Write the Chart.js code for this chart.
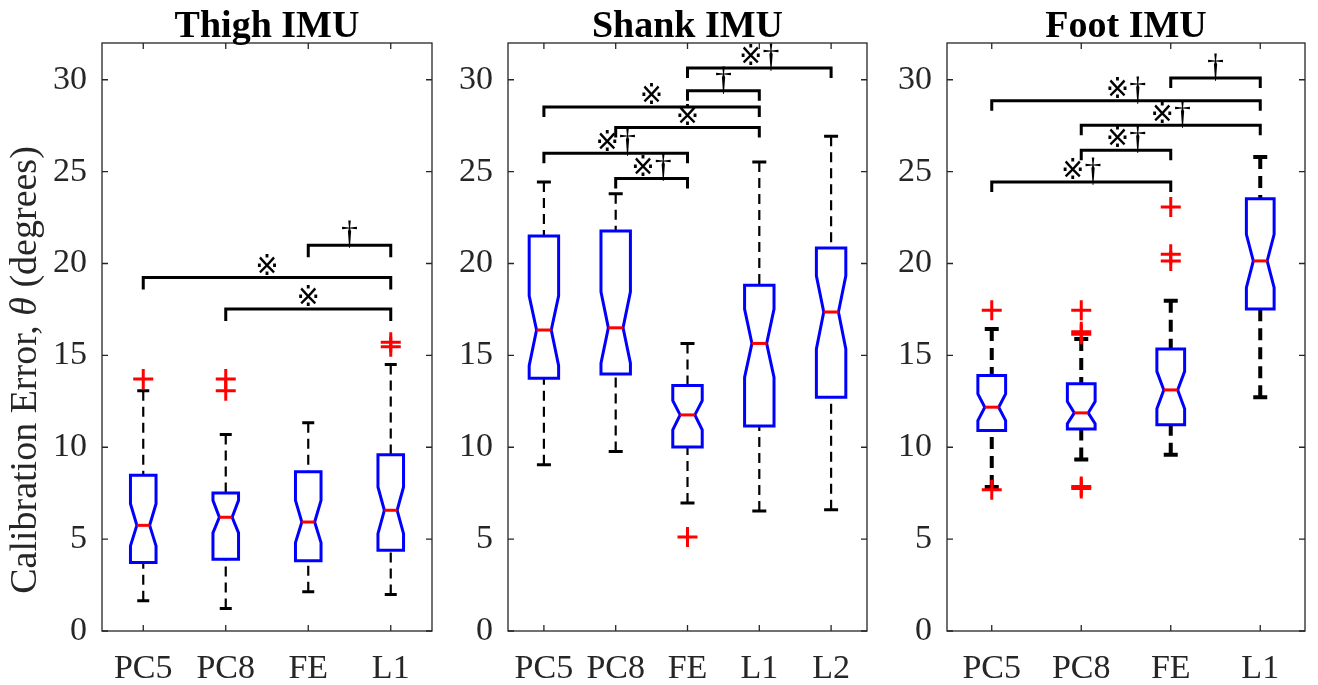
<!DOCTYPE html>
<html>
<head>
<meta charset="utf-8">
<title>IMU calibration error</title>
<script src="https://cdn.jsdelivr.net/npm/chart.js@4.4.1/dist/chart.umd.min.js"></script>
<style>
  html, body { margin: 0; padding: 0; background: #fff; }
  #wrap { position: relative; width: 1318px; height: 685px; overflow: hidden; }
  #wrap canvas { position: absolute; top: 0; }
</style>
</head>
<body>
<div id="wrap">
  <canvas id="thigh" width="445" height="685" style="left:0"></canvas>
  <canvas id="shank" width="435" height="685" style="left:445px"></canvas>
  <canvas id="foot" width="438" height="685" style="left:880px"></canvas>
</div>
<script>
// ---- Thigh IMU ----
const thighLabels = ['PC5', 'PC8', 'FE', 'L1'];
const thighWhiskerLow = [1.65, 1.23, 2.13, 1.99];
const thighQ1 = [3.73, 3.91, 3.82, 4.40];
const thighNotchLow = [4.63, 5.34, 4.81, 5.30];
const thighMedian = [5.75, 6.19, 5.93, 6.57];
const thighNotchHigh = [6.93, 7.11, 7.11, 7.84];
const thighQ3 = [8.47, 7.51, 8.67, 9.59];
const thighWhiskerHigh = [13.08, 10.70, 11.33, 14.50];
const thighOutliers = [[13.72], [13.72, 13.08], [], [15.71, 15.47]];
const thighPairs = [[1, 4], [2, 4], [3, 4]];
const thighPairLevels = [19.24, 17.52, 21.0];
const thighPairMarks = ['※', '※', '†'];

// ---- Shank IMU ----
const shankLabels = ['PC5', 'PC8', 'FE', 'L1', 'L2'];
const shankWhiskerLow = [9.05, 9.77, 6.97, 6.53, 6.60];
const shankQ1 = [13.75, 13.99, 10.01, 11.15, 12.72];
const shankNotchLow = [14.44, 14.57, 10.95, 13.80, 15.35];
const shankMedian = [16.38, 16.50, 11.76, 15.65, 17.36];
const shankNotchHigh = [18.24, 18.46, 12.54, 17.52, 19.33];
const shankQ3 = [21.50, 21.77, 13.36, 18.82, 20.85];
const shankWhiskerHigh = [24.43, 23.80, 15.65, 25.52, 26.93];
const shankOutliers = [[], [], [5.12], [], []];
const shankPairs = [[3, 5], [3, 4], [1, 4], [2, 4], [1, 3], [2, 3]];
const shankPairLevels = [30.64, 29.4, 28.52, 27.4, 26.0, 24.63];
const shankPairMarks = ['※†', '†', '※', '※', '※†', '※†'];

// ---- Foot IMU ----
const footLabels = ['PC5', 'PC8', 'FE', 'L1'];
const footWhiskerLow = [7.84, 9.34, 9.59, 12.72];
const footQ1 = [10.91, 11.00, 11.22, 17.52];
const footNotchLow = [11.45, 11.28, 12.09, 18.69];
const footMedian = [12.18, 11.87, 13.12, 20.14];
const footNotchHigh = [12.90, 12.49, 14.13, 21.59];
const footQ3 = [13.90, 13.45, 15.35, 23.52];
const footWhiskerHigh = [16.43, 15.89, 17.97, 25.80];
const footOutliers = [[17.46, 7.69], [17.46, 16.29, 16.15, 7.87, 7.75], [23.07, 20.50, 20.14], []];
const footPairs = [[3, 4], [1, 4], [2, 4], [2, 3], [1, 3]];
const footPairLevels = [30.1, 28.86, 27.52, 26.17, 24.43];
const footPairMarks = ['†', '※†', '※†', '※†', '※†'];

const yTicks = [0, 5, 10, 15, 20, 25, 30];
const yMax = 32;

const SERIF = '"Liberation Serif", "Times New Roman", "DejaVu Serif", serif';
const AXIS_COLOR = '#262626';

// the reference mark is raised off the bracket; the dagger sits on it
function markFont(ch) {
  return ch === '※' ? '28px "DejaVu Sans", ' + SERIF : '34px ' + SERIF;
}

function drawMark(ctx, text, cx, yl) {
  const chars = Array.from(text);
  let total = 0;
  chars.forEach(ch => { ctx.font = markFont(ch); total += ctx.measureText(ch).width; });
  let x = cx - total / 2;
  ctx.textAlign = 'left';
  chars.forEach(ch => {
    ctx.font = markFont(ch);
    if (ch === '※') {
      ctx.textBaseline = 'middle';
      ctx.fillText(ch, x, yl - 10);
    } else {
      ctx.textBaseline = 'alphabetic';
      ctx.fillText(ch, x, yl - 1);
    }
    x += ctx.measureText(ch).width;
  });
}

// notched boxes, whiskers, frame and significance brackets
const boxPlotPlugin = {
  id: 'boxplot',
  beforeDatasetsDraw(chart, args, o) {
    const ctx = chart.ctx;
    const xs = chart.scales.x, ys = chart.scales.y;
    const area = chart.chartArea;
    const st = o.style;
    ctx.save();

    // axes box with inward ticks
    ctx.strokeStyle = AXIS_COLOR;
    ctx.lineWidth = 1.3;
    ctx.strokeRect(area.left, area.top, area.right - area.left, area.bottom - area.top);
    ctx.beginPath();
    o.labels.forEach((_, i) => {
      const px = xs.getPixelForValue(i + 1);
      ctx.moveTo(px, area.bottom); ctx.lineTo(px, area.bottom - 6);
      ctx.moveTo(px, area.top); ctx.lineTo(px, area.top + 6);
    });
    yTicks.forEach(v => {
      const py = ys.getPixelForValue(v);
      ctx.moveTo(area.left, py); ctx.lineTo(area.left + 6, py);
      ctx.moveTo(area.right, py); ctx.lineTo(area.right - 6, py);
    });
    ctx.stroke();

    const s = o.stats;
    const half = (xs.getPixelForValue(1 + st.boxWidth / 2) - xs.getPixelForValue(1));
    const inset = half * 0.5;
    o.labels.forEach((_, i) => {
      const cx = xs.getPixelForValue(i + 1);
      const yLo = ys.getPixelForValue(s.whiskerLow[i]);
      const yQ1 = ys.getPixelForValue(s.q1[i]);
      const yNL = ys.getPixelForValue(s.notchLow[i]);
      const yMed = ys.getPixelForValue(s.median[i]);
      const yNH = ys.getPixelForValue(s.notchHigh[i]);
      const yQ3 = ys.getPixelForValue(s.q3[i]);
      const yHi = ys.getPixelForValue(s.whiskerHigh[i]);

      // dashed whiskers
      ctx.strokeStyle = '#000';
      ctx.lineWidth = st.whiskerWidth;
      ctx.setLineDash(st.dash);
      ctx.beginPath();
      ctx.moveTo(cx, yHi); ctx.lineTo(cx, yQ3);
      ctx.moveTo(cx, yLo); ctx.lineTo(cx, yQ1);
      ctx.stroke();
      ctx.setLineDash([]);

      // whisker caps
      ctx.lineWidth = st.capWidth;
      ctx.beginPath();
      ctx.moveTo(cx - st.capHalf, yHi); ctx.lineTo(cx + st.capHalf, yHi);
      ctx.moveTo(cx - st.capHalf, yLo); ctx.lineTo(cx + st.capHalf, yLo);
      ctx.stroke();

      // notched box
      const l = cx - half, r = cx + half;
      ctx.strokeStyle = '#0000ff';
      ctx.lineWidth = 3;
      ctx.lineJoin = 'miter';
      ctx.beginPath();
      ctx.moveTo(l, yQ1);
      ctx.lineTo(l, yNL);
      ctx.lineTo(l + inset, yMed);
      ctx.lineTo(l, yNH);
      ctx.lineTo(l, yQ3);
      ctx.lineTo(r, yQ3);
      ctx.lineTo(r, yNH);
      ctx.lineTo(r - inset, yMed);
      ctx.lineTo(r, yNL);
      ctx.lineTo(r, yQ1);
      ctx.closePath();
      ctx.stroke();

      // median
      ctx.strokeStyle = '#ff0000';
      ctx.lineWidth = 3;
      ctx.beginPath();
      ctx.moveTo(l + inset, yMed); ctx.lineTo(r - inset, yMed);
      ctx.stroke();
    });

    // significance brackets
    ctx.strokeStyle = '#000';
    ctx.fillStyle = '#000';
    ctx.lineWidth = 3;
    o.pairs.forEach((p, k) => {
      const x1 = xs.getPixelForValue(p[0]);
      const x2 = xs.getPixelForValue(p[1]);
      const yl = ys.getPixelForValue(o.levels[k]);
      ctx.beginPath();
      ctx.moveTo(x1, yl + st.leg);
      ctx.lineTo(x1, yl);
      ctx.lineTo(x2, yl);
      ctx.lineTo(x2, yl + st.leg);
      ctx.stroke();
      drawMark(ctx, o.marks[k], (x1 + x2) / 2, yl);
    });

    // panel title, centred over the axes
    ctx.font = 'bold 38px ' + SERIF;
    ctx.textAlign = 'center';
    ctx.textBaseline = 'alphabetic';
    ctx.fillText(o.title, (area.left + area.right) / 2, 37);

    // shared y-axis label with italic theta
    if (o.yLabel) {
      ctx.translate(26, 370);
      ctx.rotate(-Math.PI / 2);
      ctx.fillStyle = AXIS_COLOR;
      ctx.textBaseline = 'middle';
      ctx.textAlign = 'left';
      const parts = [['Calibration Error, ', ''], ['θ', 'italic '], [' (degrees)', '']];
      let total = 0;
      parts.forEach(pt => { ctx.font = pt[1] + '38px ' + SERIF; total += ctx.measureText(pt[0]).width; });
      let xpos = -total / 2;
      parts.forEach(pt => {
        ctx.font = pt[1] + '38px ' + SERIF;
        ctx.fillText(pt[0], xpos, 0);
        xpos += ctx.measureText(pt[0]).width;
      });
    }
    ctx.restore();
  }
};

function makePanel(id, cfg) {
  const points = [];
  cfg.outliers.forEach((vals, i) => vals.forEach(v => points.push({ x: i + 1, y: v })));
  return new Chart(document.getElementById(id), {
    type: 'scatter',
    data: {
      datasets: [{
        label: 'outliers',
        data: points,
        pointStyle: 'cross',
        radius: 10,
        borderWidth: 3,
        borderColor: '#ff0000',
        backgroundColor: '#ff0000'
      }]
    },
    options: {
      responsive: false,
      animation: false,
      events: [],
      layout: { padding: { top: 43, right: cfg.style.padRight, bottom: 0, left: 0 } },
      plugins: {
        legend: { display: false },
        tooltip: { enabled: false },
        boxplot: cfg
      },
      scales: {
        x: {
          type: 'linear',
          min: 0.5,
          max: cfg.labels.length + 0.5,
          grid: { display: false },
          border: { display: false },
          afterBuildTicks: sc => { sc.ticks = cfg.labels.map((_, i) => ({ value: i + 1 })); },
          afterFit: sc => { sc.height = 54; },
          ticks: {
            callback: v => cfg.labels[v - 1],
            font: { family: SERIF, size: 34 },
            color: AXIS_COLOR,
            padding: 10,
            maxRotation: 0
          }
        },
        y: {
          type: 'linear',
          min: 0,
          max: yMax,
          grid: { display: false },
          border: { display: false },
          afterBuildTicks: sc => { sc.ticks = yTicks.map(v => ({ value: v })); },
          afterFit: sc => { sc.width = cfg.style.axisWidth; },
          ticks: {
            font: { family: SERIF, size: 34 },
            color: AXIS_COLOR,
            padding: 7
          }
        }
      }
    },
    plugins: [boxPlotPlugin]
  });
}

makePanel('thigh', {
  title: 'Thigh IMU',
  yLabel: true,
  labels: thighLabels,
  stats: { whiskerLow: thighWhiskerLow, q1: thighQ1, notchLow: thighNotchLow, median: thighMedian,
           notchHigh: thighNotchHigh, q3: thighQ3, whiskerHigh: thighWhiskerHigh },
  outliers: thighOutliers,
  pairs: thighPairs, levels: thighPairLevels, marks: thighPairMarks,
  style: { axisWidth: 102, padRight: 7, boxWidth: 0.31, whiskerWidth: 2.2, dash: [10, 6], capWidth: 3, capHalf: 6, leg: 12 }
});

makePanel('shank', {
  title: 'Shank IMU',
  yLabel: false,
  labels: shankLabels,
  stats: { whiskerLow: shankWhiskerLow, q1: shankQ1, notchLow: shankNotchLow, median: shankMedian,
           notchHigh: shankNotchHigh, q3: shankQ3, whiskerHigh: shankWhiskerHigh },
  outliers: shankOutliers,
  pairs: shankPairs, levels: shankPairLevels, marks: shankPairMarks,
  style: { axisWidth: 63, padRight: 8, boxWidth: 0.41, whiskerWidth: 2.2, dash: [10, 6], capWidth: 3, capHalf: 7, leg: 10 }
});

makePanel('foot', {
  title: 'Foot IMU',
  yLabel: false,
  labels: footLabels,
  stats: { whiskerLow: footWhiskerLow, q1: footQ1, notchLow: footNotchLow, median: footMedian,
           notchHigh: footNotchHigh, q3: footQ3, whiskerHigh: footWhiskerHigh },
  outliers: footOutliers,
  pairs: footPairs, levels: footPairLevels, marks: footPairMarks,
  style: { axisWidth: 67, padRight: 6, boxWidth: 0.31, whiskerWidth: 4, dash: [12, 7], capWidth: 4, capHalf: 7, leg: 10 }
});
</script>
</body>
</html>
